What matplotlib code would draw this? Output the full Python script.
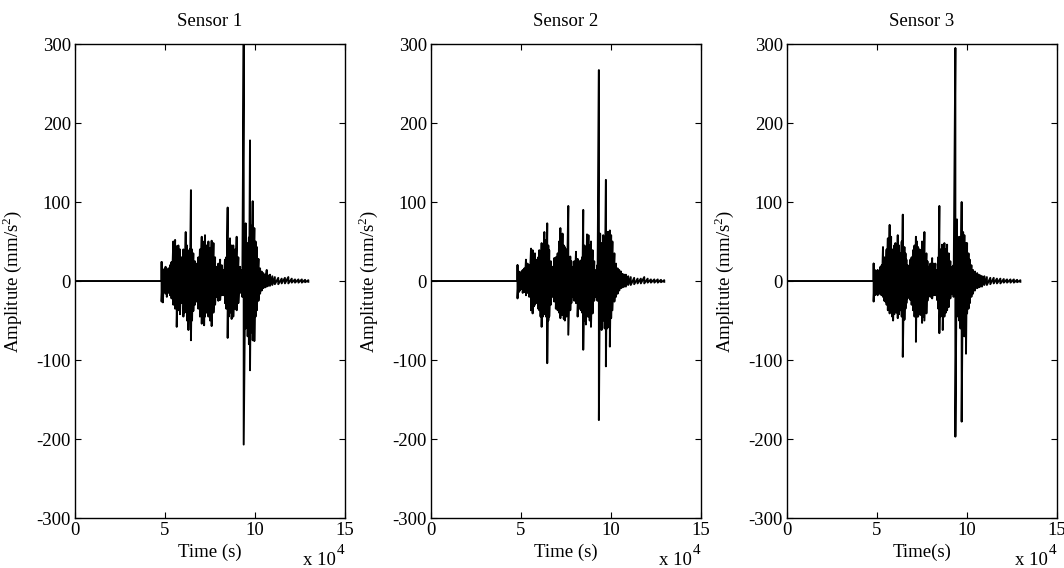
import matplotlib
matplotlib.use("Agg")
import matplotlib.pyplot as plt
import numpy as np

plt.rcParams['font.family'] = ['Liberation Serif', 'DejaVu Serif']
plt.rcParams['mathtext.fontset'] = 'custom'
plt.rcParams['mathtext.rm'] = 'Liberation Serif'
plt.rcParams['font.size'] = 13.5
plt.rcParams['axes.unicode_minus'] = False

# envelope of each record (time in 1000 s, upper / lower peak)
t1 = [48.1, 48.8, 49.5, 50.3, 51.0, 51.9, 52.8, 53.6, 54.6, 55.6, 56.5, 57.4, 58.3, 59.2,
      60.2, 60.9, 61.5, 62.2, 63.0, 63.7, 64.4, 65.0, 65.7, 66.6, 67.6, 68.5, 69.4, 70.4,
      71.2, 71.7, 72.2, 73.1, 74.1, 75.0, 75.9, 76.9, 77.8, 78.7, 79.6, 80.6, 81.5, 82.4,
      83.3, 84.0, 84.8, 85.4, 86.1, 87.0, 87.9, 88.9, 89.8, 90.7, 91.7, 92.9, 93.7, 94.8,
      95.9, 96.6, 97.2, 97.9, 98.7, 99.6, 100.3, 101.0, 101.9, 102.8, 103.7, 104.6, 105.6,
      106.5, 107.4, 108.3, 109.6, 111.0, 112.9, 114.8, 116.6, 118.5, 120.4, 122.2, 124.1,
      126.0, 127.8, 129.6]
hi1 = [24, 12, 15, 18, 13, 16, 20, 24, 50, 52, 44, 45, 40, 30,
       40, 35, 62, 45, 38, 40, 115, 40, 35, 25, 22, 30, 40, 56,
       45, 50, 58, 45, 50, 42, 51, 48, 30, 18, 22, 27, 20, 14,
       27, 30, 93, 50, 54, 45, 45, 40, 56, 30, 18, 14, 300, 73,
       48, 55, 178, 70, 101, 67, 50, 43, 28, 16, 12, 10, 8,
       14, 7, 8, 6, 5, 4, 3, 4, 5, 3, 2, 2,
       2, 1.5, 1]
lo1 = [-26, -27, -14, -16, -20, -15, -18, -22, -30, -35, -58, -37, -42, -28,
       -45, -40, -38, -50, -62, -45, -75, -50, -38, -30, -26, -35, -45, -54,
       -42, -56, -45, -40, -45, -50, -57, -40, -30, -20, -25, -24, -18, -18,
       -28, -35, -72, -45, -40, -48, -45, -35, -37, -28, -15, -20, -207, -60,
       -70, -80, -113, -65, -75, -76, -45, -37, -25, -16, -12, -9, -8,
       -7, -6, -6, -5, -4, -4, -3, -3, -3, -2, -2, -2,
       -2, -1.5, -1]

t2 = [48.1, 48.8, 49.5, 50.3, 51.0, 51.9, 52.8, 53.7, 54.6, 55.6, 56.5, 57.2, 57.8, 58.9,
      59.6, 60.2, 60.9, 61.5, 62.2, 63.0, 63.9, 64.6, 65.2, 65.7, 66.6, 67.6, 68.5, 69.4,
      70.4, 71.2, 71.9, 72.5, 73.1, 73.8, 74.4, 75.3, 76.3, 77.4, 78.0, 78.7, 79.6, 80.6,
      81.5, 82.4, 83.3, 84.0, 84.6, 85.3, 86.1, 86.7, 87.5, 88.2, 88.9, 89.8, 90.7, 91.7,
      92.5, 93.3, 94.0, 94.8, 95.7, 96.5, 97.2, 97.9, 98.6, 99.4, 100.1, 100.8, 101.9, 102.8,
      103.7, 104.6, 105.6, 106.5, 107.4, 108.3, 109.6, 111.0, 112.9, 114.8, 116.6, 118.5,
      120.4, 122.2, 124.1, 126.0, 127.8, 129.6]
hi2 = [20, 12, 10, 12, 14, 16, 27, 22, 20, 41, 39, 30, 35, 27,
       30, 39, 35, 48, 40, 62, 52, 73, 45, 39, 25, 18, 29, 30,
       35, 50, 67, 55, 60, 45, 43, 40, 95, 31, 25, 18, 25, 37,
       28, 25, 26, 30, 90, 45, 37, 59, 58, 45, 50, 39, 25, 14,
       20, 267, 60, 48, 58, 55, 128, 62, 62, 64, 58, 50, 35, 22,
       16, 14, 12, 9, 8, 8, 6, 5, 4, 3, 3, 5,
       3, 2, 2, 2, 1.5, 1]
lo2 = [-22, -14, -12, -10, -15, -14, -18, -15, -20, -37, -41, -32, -30, -28,
       -35, -37, -45, -58, -45, -42, -45, -104, -50, -45, -30, -20, -26, -35,
       -37, -40, -47, -42, -43, -48, -50, -45, -68, -37, -28, -20, -25, -28,
       -45, -35, -37, -40, -87, -50, -55, -45, -45, -50, -58, -41, -25, -20,
       -25, -176, -50, -62, -50, -60, -108, -60, -58, -83, -47, -37, -26, -20,
       -16, -12, -9, -8, -7, -7, -5, -5, -4, -3, -3, -3,
       -2, -2, -2, -2, -1.5, -1]

t3 = [48.1, 48.8, 49.5, 50.3, 51.0, 51.9, 52.6, 53.3, 54.0, 54.6, 55.3, 56.0, 56.5, 57.0,
      57.8, 58.4, 58.9, 59.6, 60.2, 60.9, 61.5, 62.2, 63.0, 63.7, 64.3, 65.2, 65.8, 66.3,
      67.0, 67.6, 68.5, 69.2, 70.0, 70.8, 71.6, 72.2, 72.8, 73.5, 74.1, 75.0, 75.6, 76.3,
      77.4, 78.0, 78.7, 79.6, 80.6, 81.5, 82.4, 83.3, 84.0, 84.6, 85.3, 86.1, 86.5, 87.4,
      88.2, 88.9, 89.8, 90.7, 91.7, 92.5, 93.5, 94.4, 95.0, 95.6, 96.3, 97.0, 97.8, 98.5,
      99.4, 100.0, 100.8, 101.5, 102.4, 103.3, 104.4, 105.6, 106.5, 107.4, 108.3, 109.6,
      111.0, 112.9, 114.8, 116.6, 118.5, 120.4, 122.2, 124.1, 126.0, 127.8, 129.6]
hi3 = [22, 14, 12, 14, 13, 18, 20, 43, 30, 27, 40, 54, 45, 71,
       56, 40, 38, 45, 48, 40, 58, 45, 35, 50, 84, 43, 35, 27,
       20, 14, 27, 30, 39, 45, 56, 50, 43, 40, 39, 50, 45, 62,
       35, 25, 18, 22, 29, 22, 22, 14, 30, 95, 40, 46, 42, 48,
       40, 46, 35, 25, 18, 20, 295, 78, 50, 56, 55, 100, 62, 58,
       48, 48, 35, 27, 20, 14, 12, 10, 8, 7, 6, 6,
       5, 4, 4, 3, 3, 2.5, 2, 2, 2, 1.5, 1]
lo3 = [-26, -18, -16, -18, -15, -17, -18, -20, -25, -26, -30, -37, -35, -41,
       -38, -45, -50, -42, -35, -40, -47, -42, -37, -45, -96, -49, -35, -28,
       -22, -16, -24, -30, -37, -45, -77, -45, -45, -40, -43, -53, -45, -50,
       -41, -25, -16, -20, -22, -18, -18, -24, -35, -66, -45, -40, -62, -45,
       -40, -37, -33, -22, -16, -20, -197, -35, -45, -50, -60, -178, -60, -70,
       -92, -41, -35, -28, -20, -16, -12, -9, -8, -7, -7, -5,
       -5, -4, -3, -3, -3, -2, -2, -2, -2, -1.5, -1]

titles = ['Sensor 1', 'Sensor 2', 'Sensor 3']
xlabels = ['Time (s)', 'Time (s)', 'Time(s)']
records = [(t1, hi1, lo1), (t2, hi2, lo2), (t3, hi3, lo3)]
lefts = [0.0705, 0.405, 0.7397]

fig = plt.figure(figsize=(10.64, 5.68), dpi=100)

for i in range(3):
    ax = fig.add_axes([lefts[i], 0.088, 0.2538, 0.8345])
    t, hi, lo = records[i]
    t = np.array(t) * 1000
    # flat before the event, then zigzag between upper and lower peaks
    x = np.concatenate([[0, t[0]], np.repeat(t, 2)])
    y = np.concatenate([[0, 0], np.column_stack([hi, lo]).ravel()])
    ax.plot(x, y, color='black', lw=1.4)
    ax.set_xlim(0, 15e4)
    ax.set_ylim(-300, 300)
    ax.set_xticks([0, 5e4, 10e4, 15e4])
    ax.set_xticklabels(['0', '5', '10', '15'])
    ax.set_yticks([-300, -200, -100, 0, 100, 200, 300])
    ax.tick_params(direction='in', length=4, width=0.8, top=True, right=True, pad=3)
    for s in ax.spines.values():
        s.set_linewidth(1.0)
    ax.set_title(titles[i], fontsize=13.5, pad=13)
    ax.set_xlabel(xlabels[i])
    ax.xaxis.set_label_coords(0.5, -0.055)
    ax.set_ylabel('Amplitute (mm/s$^2$)')
    ax.yaxis.set_label_coords(-0.19, 0.5)
    # MATLAB style exponent under the right end of the x axis
    ax.text(0.965, -0.099, 'x 10', transform=ax.transAxes, ha='right', va='baseline')
    ax.text(0.968, -0.075, '4', transform=ax.transAxes, ha='left', va='baseline',
            fontsize=11)

plt.savefig('out.png')
